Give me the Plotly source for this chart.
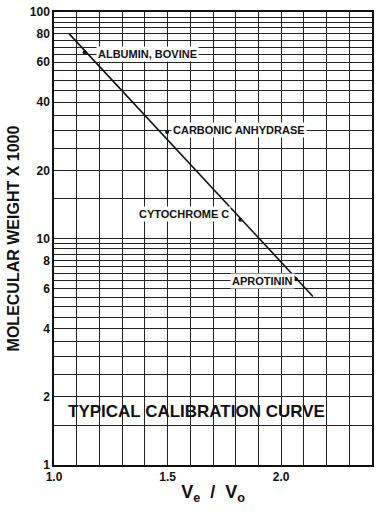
import plotly.graph_objects as go
import numpy as np

# Calibration line endpoints (Ve/Vo, MW x 1000)
line_x = [1.065, 2.14]
line_y = [80.5, 5.55]

# Standard proteins
prot_names = ["ALBUMIN, BOVINE", "CARBONIC ANHYDRASE", "CYTOCHROME C", "APROTININ"]
prot_x = [1.135, 1.498, 1.82, 2.066]
prot_y = [66.5, 29.5, 12.1, 6.6]

# Label placement (x of label left edge, y of label line)
label_x = [1.185, 1.515, 1.367, 1.773]
label_y = [65, 30, 12.8, 6.5]

# Grid / tick values
x_ticks = [round(1.0 + 0.1 * i, 1) for i in range(15)]
x_labels = {1.0: "1.0", 1.5: "1.5", 2.0: "2.0"}
y_ticks = [1 + 0.5 * i for i in range(19)] + [10 + 5 * i for i in range(1, 19)]
y_labels = {1: "1", 2: "2", 4: "4", 6: "6", 8: "8", 10: "10", 20: "20", 40: "40", 60: "60", 80: "80", 100: "100"}

FONT = "Liberation Sans, Arial, sans-serif"

fig = go.Figure()
fig.add_trace(go.Scatter(x=line_x, y=line_y, mode="lines",
                         line=dict(color="#111", width=1.6), hoverinfo="skip"))
fig.add_trace(go.Scatter(x=prot_x, y=prot_y, mode="markers",
                         marker=dict(color="#111", size=4), hoverinfo="skip"))

for name, lx, ly in zip(prot_names, label_x, label_y):
    fig.add_annotation(x=lx, y=np.log10(ly), xref="x", yref="y", text=name,
                       showarrow=False, xanchor="left", yanchor="middle",
                       bgcolor="white", borderpad=1,
                       font=dict(family=FONT, size=11, color="#111", weight="bold"))

# white band for the title box
fig.add_shape(type="rect", xref="x", yref="y", x0=1.0, x1=2.3,
              y0=np.log10(1.5), y1=np.log10(2.0),
              fillcolor="white", line=dict(width=0), layer="between")
fig.add_annotation(x=1.055, y=np.log10(1.73), xref="x", yref="y",
                   text="TYPICAL CALIBRATION CURVE", showarrow=False,
                   xanchor="left", yanchor="middle",
                   font=dict(family=FONT, size=17, color="#111", weight="bold"))

fig.update_layout(
    width=378, height=514,
    margin=dict(l=54, r=4, t=12, b=49),
    paper_bgcolor="white", plot_bgcolor="white",
    showlegend=False,
    font=dict(family=FONT, color="#111"),
)
fig.update_xaxes(
    range=[1.0, 2.4], tickmode="array", tickvals=x_ticks,
    ticktext=[x_labels.get(v, "") for v in x_ticks],
    showgrid=True, gridcolor="#222", gridwidth=1.1,
    showline=True, linecolor="#111", linewidth=1.5, mirror=True,
    ticks="", zeroline=False, automargin=True,
    tickfont=dict(family=FONT, size=12, weight="bold"),
    title=dict(text="V<sub>e</sub>  /  V<sub>o</sub>", standoff=2,
               font=dict(family=FONT, size=18, weight="bold")),
)
fig.update_yaxes(
    type="log", range=[0, 2], tickmode="array", tickvals=y_ticks,
    ticktext=[y_labels.get(v, "") for v in y_ticks],
    showgrid=True, gridcolor="#222", gridwidth=1.1,
    showline=True, linecolor="#111", linewidth=1.5, mirror=True,
    ticks="", zeroline=False, automargin=True,
    ticklabeloverflow="allow",
    tickfont=dict(family=FONT, size=12, weight="bold"),
    title=dict(text="MOLECULAR WEIGHT X 1000", standoff=6,
               font=dict(family=FONT, size=16, weight="bold")),
)

# remove the browser's default 8px body margin so the figure fills the window
fig.write_html("out.html", config={"displayModeBar": False},
               post_script="document.body.style.margin='0';")
